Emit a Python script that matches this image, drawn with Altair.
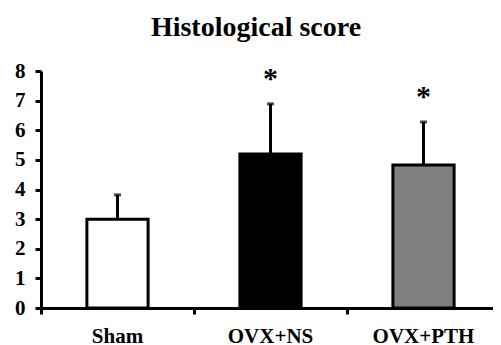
import altair as alt
import pandas as pd

groups = ["Sham", "OVX+NS", "OVX+PTH"]
means = [3.0, 5.2, 4.83]
errs = [0.82, 1.69, 1.45]
fills = ["#ffffff", "#000000", "#808080"]
stars = ["", "*", "*"]

df = pd.DataFrame({
    "group": groups,
    "mean": means,
    "top": [m + e for m, e in zip(means, errs)],
    "fill": fills,
    "star": stars,
})

FONT = "Liberation Serif"

yaxis = alt.Axis(values=list(range(0, 9)), labelFontSize=21,
                 labelPadding=10, tickSize=6, grid=False, labelOverlap=False)
yscale = alt.Scale(domain=[0, 8], nice=False)

x = alt.X("group:N", sort=groups, title=None,
          scale=alt.Scale(paddingInner=0, paddingOuter=0, range=[0, 459]),
          axis=alt.Axis(labelAngle=0, bandPosition=0, labelFontSize=21,
                        labelPadding=11, tickSize=6))
y = alt.Y("mean:Q", title=None, scale=yscale, axis=yaxis)
ytop = alt.Y("top:Q", title=None, scale=yscale, axis=yaxis)

base = alt.Chart(df)

bars = base.mark_bar(width=alt.RelativeBandSize(0.4), stroke="black",
                     strokeWidth=3).encode(
    x=x, y=y, fill=alt.Fill("fill:N", scale=None))

whisk = base.mark_rule(color="black", strokeWidth=3).encode(
    x=x, y=y, y2="top:Q")

cap = base.mark_tick(color="black", size=7, thickness=3, orient="horizontal").encode(
    x=x, y=ytop)

star = base.mark_text(font=FONT, fontWeight="bold", fontSize=30, dy=-25,
                      baseline="middle", color="black").encode(
    x=x, y=ytop, text="star:N")

chart = alt.layer(bars, whisk, cap, star).properties(
    width=452, height=237,
    background="white",
    autosize=alt.AutoSizeParams(type="none"),
    padding={"left": 33, "top": 63, "right": 0, "bottom": 37},
    title=alt.TitleParams("Histological score", font=FONT, fontSize=28,
                          fontWeight="bold", anchor="middle", dx=-11,
                          offset=18, color="black"),
).configure_view(stroke=None).configure_axis(
    domainColor="black", domainWidth=3, tickColor="black", tickWidth=3,
    labelFont=FONT, labelFontWeight="bold", labelColor="black",
)

chart.save("out.html", embed_options={"renderer": "svg", "actions": False})
